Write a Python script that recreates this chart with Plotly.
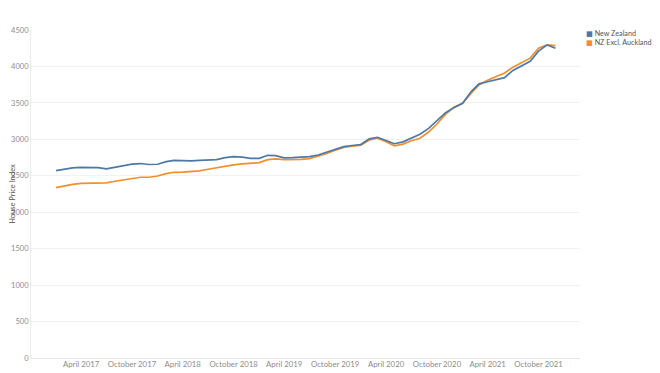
import plotly.graph_objects as go
import pandas as pd

months = pd.date_range("2017-01-01", "2021-12-01", freq="MS")

new_zealand = [
    2571, 2595, 2608, 2615, 2615, 2612, 2596, 2618, 2640, 2660,
    2668, 2655, 2658, 2694, 2712, 2708, 2704, 2712, 2720, 2722,
    2750, 2764, 2755, 2740, 2740, 2781, 2777, 2745, 2748, 2752,
    2764, 2785, 2822, 2860, 2900, 2915, 2928, 3006, 3028, 2985,
    2940, 2965, 3015, 3070, 3150, 3260, 3366, 3435, 3494, 3655,
    3761, 3790, 3820, 3847, 3945, 4010, 4070, 4210, 4296, 4250,
]

nz_excl_auckland = [
    2338, 2365, 2382, 2395, 2398, 2400, 2402, 2425, 2445, 2465,
    2480, 2480, 2497, 2530, 2548, 2550, 2555, 2567, 2590, 2612,
    2626, 2650, 2662, 2670, 2680, 2722, 2731, 2722, 2720, 2725,
    2735, 2770, 2805, 2850, 2890, 2905, 2920, 2992, 3015, 2968,
    2912, 2935, 2980, 3015, 3100, 3210, 3345, 3440, 3494, 3632,
    3747, 3810, 3860, 3910, 3990, 4050, 4114, 4250, 4296, 4287,
]

tick_vals = ["2017-04-01", "2017-10-01", "2018-04-01", "2018-10-01", "2019-04-01",
             "2019-10-01", "2020-04-01", "2020-10-01", "2021-04-01", "2021-10-01"]
tick_text = ["April 2017", "October 2017", "April 2018", "October 2018", "April 2019",
             "October 2019", "April 2020", "October 2020", "April 2021", "October 2021"]

y_ticks = [0, 500, 1000, 1500, 2000, 2500, 3000, 3500, 4000, 4500]

series_names = ["New Zealand", "NZ Excl. Auckland"]
series_colors = ["#4e79a7", "#f28e2b"]

FONT = "Lato"

fig = go.Figure()
# orange drawn first so blue sits on top where they overlap
fig.add_trace(go.Scatter(x=months, y=nz_excl_auckland, mode="lines", name=series_names[1],
                         line=dict(color=series_colors[1], width=1.7), showlegend=False))
fig.add_trace(go.Scatter(x=months, y=new_zealand, mode="lines", name=series_names[0],
                         line=dict(color=series_colors[0], width=1.7), showlegend=False))

legend_lines = "<br>".join(
    f'<span style="color:{c};font-family:DejaVu Sans">\u25A0</span> {n}'
    for n, c in zip(series_names, series_colors)
)
fig.add_annotation(text=legend_lines, xref="paper", yref="paper", x=1.0, y=1.008,
                   xshift=4, xanchor="left", yanchor="top", align="left", showarrow=False,
                   font=dict(family=FONT, size=7.2, color="#555555"))

# the page adds an 8px body margin, so the figure is sized to fit inside 660x373
fig.update_layout(
    width=652, height=365,
    margin=dict(l=23, r=80, t=22, b=15),
    paper_bgcolor="white", plot_bgcolor="white",
    font=dict(family=FONT, size=8, color="#8c8c8c"),
    xaxis=dict(
        range=["2016-10-03", "2022-02-27"],
        tickmode="array", tickvals=tick_vals, ticktext=tick_text,
        showgrid=False, zeroline=False, showline=False,
        ticks="", ticklen=0, automargin=False,
        tickfont=dict(family=FONT, size=7.8, color="#8c8c8c"),
    ),
    yaxis=dict(
        range=[0, 4500], tickmode="array", tickvals=y_ticks,
        showgrid=True, gridcolor="#f2f2f2", gridwidth=1,
        zeroline=True, zerolinecolor="#e6e6e6", zerolinewidth=1,
        showline=True, linecolor="#ececec", linewidth=1,
        ticks="", automargin=False,
        tickfont=dict(family=FONT, size=7.5, color="#8c8c8c"),
        title=dict(text="House Price Index", standoff=14,
                   font=dict(family=FONT, size=7.5, color="#555555")),
    ),
)

fig.write_html("out.html")
